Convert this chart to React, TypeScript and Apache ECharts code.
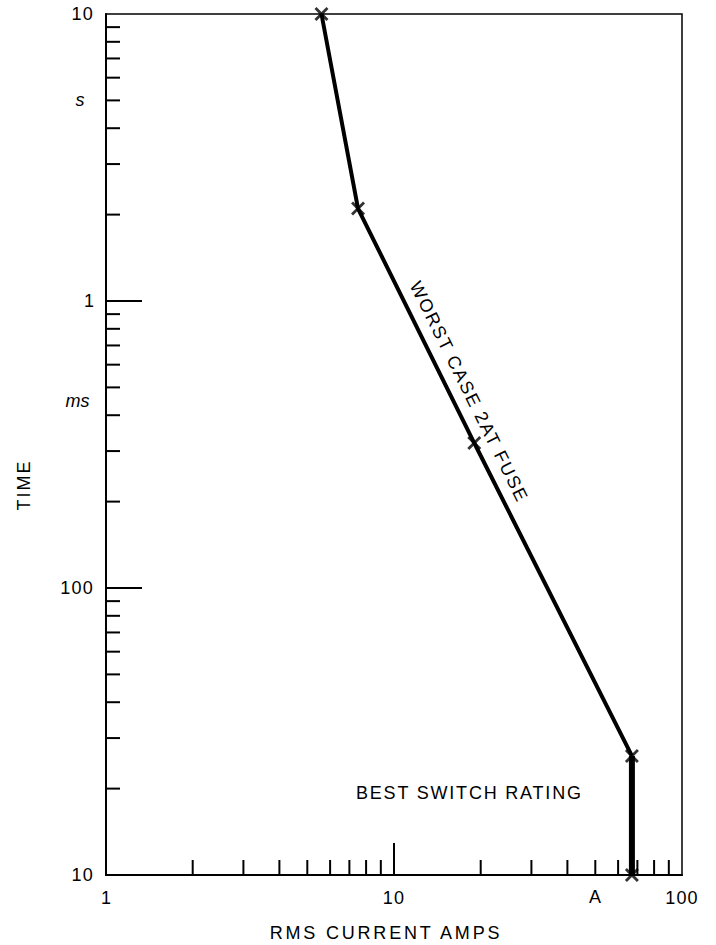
import React, { useEffect, useRef } from "react";
import * as echarts from "echarts";

// Fuse curve: RMS current (A) vs time (s)
const currentAmps = [5.6, 7.5, 19, 67, 67];
const timeSeconds = [10, 2.1, 0.32, 0.026, 0.01];

// Tick values (log axes, inward ticks)
const yMinorTicks = [9, 8, 7, 6, 5, 4, 3, 2, 0.9, 0.8, 0.7, 0.6, 0.5, 0.4, 0.3, 0.2, 0.09, 0.08, 0.07, 0.06, 0.05, 0.04, 0.03, 0.02];
const yMajorTicks = [1, 0.1];
const xMinorTicks = [2, 3, 4, 5, 6, 7, 8, 9, 20, 30, 40, 50, 60, 70, 80, 90];
const xMajorTicks = [10];

const FONT = '"Liberation Sans", Arial, Helvetica, sans-serif';

const spacing: Record<string, number> = {
  "RMS CURRENT AMPS": 2.8,
  "BEST SWITCH RATING": 1.8,
  "WORST CASE 2AT FUSE": 1.8,
  TIME: 2,
  "10": 1.2,
  "100": 1.2,
};

export default function App() {
  const ref = useRef<HTMLDivElement>(null);

  useEffect(() => {
    if (!ref.current) return;
    const chart = echarts.init(ref.current, undefined, { renderer: "svg" });

    const tickData: number[][] = [];
    yMinorTicks.forEach((v) => tickData.push([1, v, 14, 0]));
    yMajorTicks.forEach((v) => tickData.push([1, v, 36, 0]));
    xMinorTicks.forEach((v) => tickData.push([v, 0.01, 15, 1]));
    xMajorTicks.forEach((v) => tickData.push([v, 0.01, 32, 1]));

    const pts = currentAmps.map((c, i) => [c, timeSeconds[i]]);

    const xSymbol =
      "path://M0,2L2,0L7,5L12,0L14,2L9,7L14,12L12,14L7,9L2,14L0,12L5,7Z";

    const txt = (text: string, x: number, y: number, extra: any = {}) => ({
      type: "text",
      x,
      y,
      rotation: extra.rotation || 0,
      style: {
        text,
        fill: "#000",
        fontSize: 18,
        fontFamily: FONT,
        fontStyle: extra.fontStyle || "normal",
        align: extra.align || "center",
        verticalAlign: "middle",
      },
      z: 10,
    });

    chart.setOption({
      animation: false,
      backgroundColor: "#fff",
      grid: {
        left: 106,
        top: 14,
        width: 576,
        height: 861,
        show: true,
        borderColor: "#000",
        borderWidth: 1.5,
      },
      xAxis: {
        type: "log",
        logBase: 10,
        min: 1,
        max: 100,
        axisLine: { show: true, lineStyle: { color: "#000", width: 2 } },
        axisTick: { show: false },
        minorTick: { show: false },
        splitLine: { show: false },
        axisLabel: {
          color: "#000",
          fontSize: 18,
          fontFamily: FONT,
          margin: 14,
          showMinLabel: true,
          showMaxLabel: true,
          formatter: (v: number) => String(Math.round(v)),
        },
      },
      yAxis: {
        type: "log",
        logBase: 10,
        min: 0.01,
        max: 10,
        axisLine: { show: true, lineStyle: { color: "#000", width: 2 } },
        axisTick: { show: false },
        minorTick: { show: false },
        splitLine: { show: false },
        axisLabel: {
          color: "#000",
          fontSize: 18,
          fontFamily: FONT,
          margin: 12,
          showMinLabel: true,
          showMaxLabel: true,
          formatter: (v: number) =>
            v >= 1 ? String(Math.round(v)) : String(Math.round(v * 1000)),
        },
      },
      series: [
        {
          type: "custom",
          silent: true,
          clip: false,
          z: 3,
          encode: { x: 0, y: 1 },
          data: tickData,
          renderItem: (params: any, api: any) => {
            const p = api.coord([api.value(0), api.value(1)]);
            const len = api.value(2);
            const dir = api.value(3);
            const shape =
              dir === 0
                ? { x1: p[0], y1: p[1], x2: p[0] + len, y2: p[1] }
                : { x1: p[0], y1: p[1], x2: p[0], y2: p[1] - len };
            return {
              type: "line",
              shape,
              style: { stroke: "#000", lineWidth: 2 },
            };
          },
        },
        {
          type: "line",
          data: pts.slice(0, 4),
          showSymbol: false,
          silent: true,
          lineStyle: { color: "#000", width: 4 },
          z: 4,
        },
        {
          type: "line",
          data: pts.slice(3, 5),
          showSymbol: false,
          silent: true,
          lineStyle: { color: "#000", width: 6 },
          z: 4,
        },
        {
          type: "scatter",
          data: pts,
          symbol: xSymbol,
          symbolSize: 14,
          silent: true,
          itemStyle: { color: "#000" },
          z: 5,
        },
      ],
      graphic: [
        txt("TIME", 24, 485, { rotation: Math.PI / 2 }),
        txt("s", 80, 100, { fontStyle: "italic" }),
        txt("ms", 77.5, 401, { fontStyle: "italic" }),
        txt("A", 595, 897),
        txt("RMS CURRENT AMPS", 386, 933),
        txt("BEST SWITCH RATING", 356, 793, { align: "left" }),
        txt("WORST CASE 2AT FUSE", 469, 392, {
          rotation: (-63.6 * Math.PI) / 180,
        }),
      ],
    });

    const applySpacing = () => {
      if (!ref.current) return;
      ref.current.querySelectorAll("text").forEach((t) => {
        const s = spacing[(t.textContent || "").trim()];
        if (s) {
          t.setAttribute("letter-spacing", String(s));
          (t as SVGTextElement).style.letterSpacing = s + "px";
        }
      });
    };
    applySpacing();
    const raf = requestAnimationFrame(applySpacing);
    const to = setTimeout(applySpacing, 50);

    return () => {
      cancelAnimationFrame(raf);
      clearTimeout(to);
      chart.dispose();
    };
  }, []);

  return (
    <div
      ref={ref}
      style={{ position: "absolute", left: 0, top: 0, width: 716, height: 945 }}
    />
  );
}
